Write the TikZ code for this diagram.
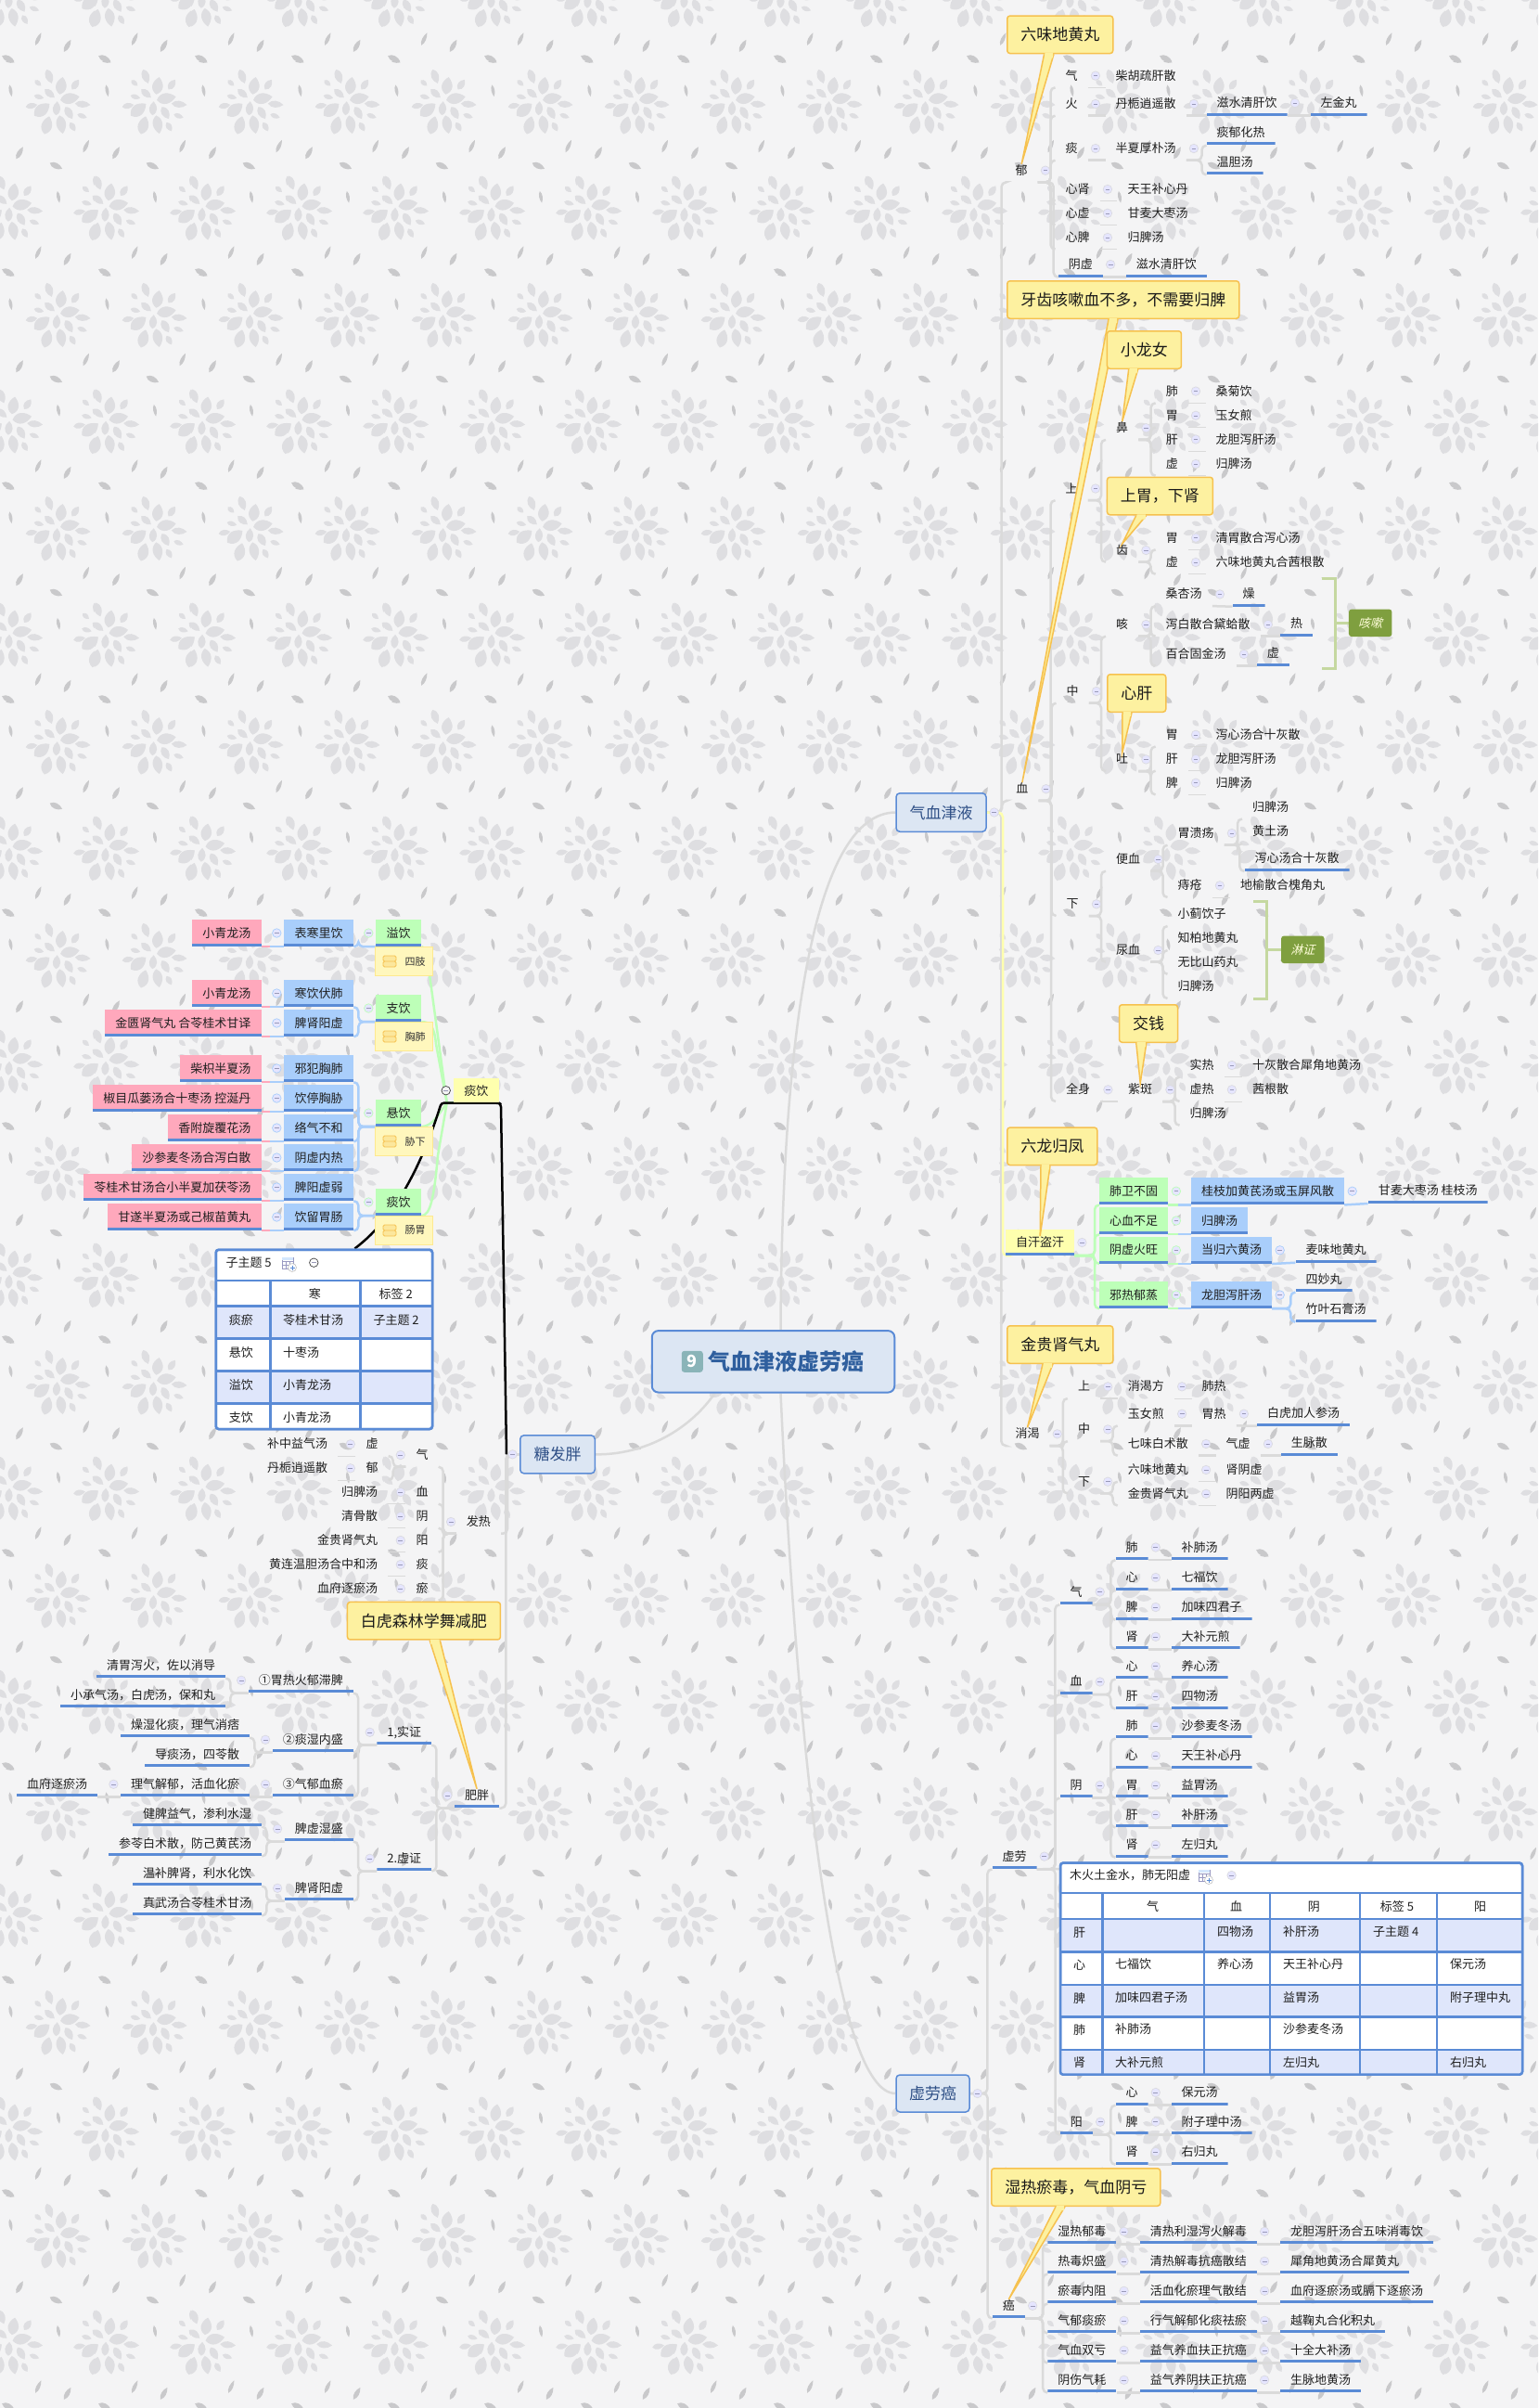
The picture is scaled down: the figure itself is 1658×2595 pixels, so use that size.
\documentclass[tikz,border=0pt]{standalone}
\usepackage{fontspec}
\setmainfont{Noto Sans CJK SC}
\newfontfamily\tagfont[FakeSlant=0.25]{Noto Sans CJK SC}
\usetikzlibrary{calc,patterns}
\definecolor{pageBg}{HTML}{F4F4F5}
\definecolor{petalGray}{HTML}{DEDEE1}
\definecolor{leafGray}{HTML}{C9C9CB}
\definecolor{linkGray}{HTML}{DADADA}
\definecolor{ulBlue}{HTML}{5A8BD6}
\definecolor{greenBox}{HTML}{BDFFB8}
\definecolor{blueBox}{HTML}{A9CEFB}
\definecolor{pinkBox}{HTML}{FFA8BC}
\definecolor{yellowBox}{HTML}{FEFFAE}
\definecolor{noteFill}{HTML}{FFF7BD}
\definecolor{noteLine}{HTML}{FFE98F}
\definecolor{topicFill}{HTML}{DCE6F3}
\definecolor{topicText}{HTML}{2E4F86}
\definecolor{rootText}{HTML}{2F5F9E}
\definecolor{badgeFill}{HTML}{8AB4B8}
\definecolor{callFill}{HTML}{FDF1A0}
\definecolor{callLine}{HTML}{F6C14F}
\definecolor{rowFill}{HTML}{DFE6FB}
\definecolor{tagFill}{HTML}{7F9F3F}
\definecolor{braceGreen}{HTML}{C5D8A0}
\pgfdeclarelayer{paper}
\pgfdeclarelayer{links}
\pgfsetlayers{paper,links,main}
\newcommand{\fs}[1]{\fontsize{#1pt}{#1pt}\selectfont}
% one petal of the paper: centre, length, width, angle (y goes up here)
\newcommand{\paperpetal}[5]{%
  \pgfscope
  \pgftransformshift{\pgfpoint{#1pt}{#2pt}}\pgftransformrotate{#5}\pgftransformxscale{#3}\pgftransformyscale{#4}%
  \pgfpathmoveto{\pgfpoint{-.5pt}{0pt}}%
  \pgfpathcurveto{\pgfpoint{-.25pt}{.78pt}}{\pgfpoint{.2pt}{.62pt}}{\pgfpoint{.5pt}{0pt}}%
  \pgfpathcurveto{\pgfpoint{.2pt}{-.62pt}}{\pgfpoint{-.25pt}{-.78pt}}{\pgfpoint{-.5pt}{0pt}}%
  \pgfusepath{fill}%
  \endpgfscope}
\newcommand{\paperflower}[2]{%
  \pgfscope
  \pgftransformshift{\pgfpoint{#1pt}{#2pt}}%
  \pgfsetfillcolor{petalGray}%
  \foreach \dx/\dy/\l/\w/\r in {3.3/17.7/19/11/80, 12.7/4/21/11/10, -17.7/-8.3/21/12/38, -12.3/-25/20/11/75,
      3.3/-24.3/20/10/-80, 11.7/-11.7/15/8/-60, -1.7/-6.7/15/8/85, -9.3/9.3/14/7/-40, -9.7/27.7/16/8/-70,
      18.7/19/13/7/55, 26.7/-2.3/17/7/-5, 26/-15/11/5/-20, 15.7/-26.7/11/6/-60, -29/-4/13/6/10, -21/5.7/11/5/-15, -22/20.7/9/5/-40}
    {\paperpetal{\dx}{\dy}{\l}{\w}{\r}}%
  \pgfsetfillcolor{leafGray}%
  \foreach \dx/\dy/\l/\w/\r in {-21.7/67.3/15/4/65, 10/60/15/5/60, -54.3/46/15/6/-25, -51.7/12.3/13/3.5/-80}
    {\paperpetal{\dx}{\dy}{\l}{\w}{\r}}%
  \endpgfscope}
\pgfdeclarepatterninherentlycolored{paperleaf}{\pgfpointorigin}{\pgfpoint{104pt}{230pt}}{\pgfpoint{104pt}{230pt}}{%
  \foreach \i in {-1,0,1} \foreach \j in {-1,0,1} {%
    \pgfmathsetmacro{\ax}{64.3+104*\i}\pgfmathsetmacro{\ay}{186.7+230*\j}%
    \pgfmathsetmacro{\bx}{12.3+104*\i}\pgfmathsetmacro{\by}{71.7+230*\j}%
    \paperflower{\ax}{\ay}\paperflower{\bx}{\by}}}
\tikzset{
  tx/.style={anchor=west,font=\fs{13},text=black!88,inner xsep=11pt,inner ysep=0pt,minimum height=25pt,text height=11pt,text depth=2pt},
  rtx/.style={tx,anchor=east},
  rule/.style={minimum height=27pt,path picture={\fill[ulBlue] ([yshift=3pt]path picture bounding box.south west) rectangle (path picture bounding box.south east);}},
  ul/.style={tx,rule},
  rul/.style={rtx,rule},
  gbox/.style={ul,fill=greenBox,minimum height=29pt},
  bbox/.style={ul,fill=blueBox,minimum height=29pt},
  pbox/.style={rul,fill=pinkBox,minimum height=29pt},
  topic/.style={font=\fs{17},text=topicText,fill=topicFill,draw=ulBlue,line width=1.5pt,rounded corners=4pt,inner sep=0pt},
  tagnode/.style={fill=tagFill,text=yellow!15,font=\fs{13}\tagfont,rounded corners=3pt,minimum width=46.5pt,minimum height=29.5pt,inner sep=0pt},
  note/.style={fill=noteFill,draw=noteLine,line width=.8pt,font=\fs{11},text=black!80,minimum width=62pt,minimum height=31pt,inner sep=0pt,
    execute at begin node={\hspace{24pt}},
    path picture={\draw[callLine,fill=noteFill!70!callLine,line width=.8pt,rounded corners=1.5pt]
      ([shift={(8.5,-6)}]path picture bounding box.west) rectangle ++(14,6)
      ([shift={(8.5,0)}]path picture bounding box.west) rectangle ++(14,6);}},
  callout/.style={font=\fs{17},text=black!90,fill=callFill,draw=callLine,line width=1.5pt,rounded corners=3pt,inner xsep=14.5pt,inner ysep=0pt,minimum height=40.5pt},
  tailLine/.style={fill=callFill,draw=callLine,line width=1.5pt,line join=miter},
  coll/.style={circle,draw=blue!12!black!14,fill=white!90!blue,line width=.7pt,minimum size=9.5pt,inner sep=0pt,
    path picture={\draw[blue!30!black!40,line width=.6pt] ([xshift=-2.4pt]path picture bounding box.center) -- ([xshift=2.4pt]path picture bounding box.center);}},
  collB/.style={coll,draw=blueBox},
  collG/.style={coll,draw=greenBox},
  collD/.style={coll,draw=black!75,fill=pageBg},
  link/.style={draw=linkGray,line width=2.5pt,rounded corners=5pt},
  thin link/.style={draw=linkGray,line width=1pt},
  glink/.style={draw=greenBox,line width=2.5pt,rounded corners=5pt},
  blink/.style={draw=blueBox,line width=2.5pt,rounded corners=5pt},
  plink/.style={draw=pinkBox,line width=2.5pt},
  heavy/.style={draw=black,line width=2.5pt,rounded corners=3pt},
  brace/.style={draw=braceGreen,line width=3pt},
  cell/.style={anchor=west,font=\fs{13},text=black!88,inner sep=0pt},
  cellc/.style={cell,anchor=center},
  tabline/.style={draw=ulBlue,line width=2.5pt},
  tabframe/.style={draw=ulBlue,line width=2.5pt,fill=white,rounded corners=3pt,inner sep=0pt},
  tabicon/.pic={
    \draw[blue!40!black!40,line width=.7pt] (-6,-6) rectangle (6,6) (-6,-2) -- (6,-2) (-6,2) -- (6,2) (-2,-2) -- (-2,6) (2,-2) -- (2,6);
    \fill[blueBox!50] (-6,-6) rectangle (6,-3);
    \draw[black!25,fill=white,line width=.6pt] (5,5) circle (4.5pt);
    \draw[ulBlue,line width=.7pt] (2.5,5) -- (7.5,5) (5,2.5) -- (5,7.5);
  },
}
\newcommand{\rtree}[2][link]{\foreach \a/\b in {#2} \draw[#1] (\a.south east) -| ([xshift=-5pt]\b.south west) -- (\b.south west);}
\newcommand{\ltree}[2][link]{\foreach \a/\b in {#2} \draw[#1] (\a.south west) -| ([xshift=5pt]\b.south east) -- (\b.south east);}
\newcommand{\rline}[2][link]{\foreach \a/\b in {#2} \draw[#1] (\a.south east) -- (\b.south west);}
\newcommand{\lline}[2][link]{\foreach \a/\b in {#2} \draw[#1] (\a.south west) -- (\b.south east);}
\newcommand{\calltail}[4]{%
  \path ([xshift=#2pt]#1.south west) coordinate (t1) ([xshift=#3pt]#1.south west) coordinate (t2) ([yshift=7pt]#4.center) coordinate (t3);
  \draw[tailLine] (t1) -- (t3) -- (t2);
  \fill[callFill] ([yshift=1.2pt,xshift=.8pt]t1) -- ([yshift=-4pt,xshift=1pt]t1) -- ([yshift=-4pt,xshift=-1pt]t2) -- ([yshift=1.2pt,xshift=-.8pt]t2) -- cycle;}
\begin{document}
\begin{tikzpicture}[x=1pt,y=-1pt]
\useasboundingbox (0,0) rectangle (1658,2595);
% paper
\begin{pgfonlayer}{paper}
\fill[pageBg] (0,0) rectangle (1658,2595);
\fill[pattern=paperleaf] (0,0) rectangle (1658,2595);
\end{pgfonlayer}

% centre and main topics
\node[topic,font=\fs{24}\bfseries,text=rootText,minimum width=261.5pt,minimum height=66.5pt,line width=2pt,rounded corners=7pt] (root) at (833.5,1467.3) {\hspace{28pt}气血津液虚劳癌};
\node[fill=badgeFill,text=white,font=\fs{18}\bfseries,rounded corners=3pt,minimum size=23pt,inner sep=0pt] (rootNum) at ([xshift=44.5pt]root.west) {9};
\node[topic,minimum width=97pt,minimum height=41.5pt] (qixue) at (1014.5,875.5) {气血津液};
\node[topic,minimum width=79pt,minimum height=40pt] (xlaTop) at (1005.5,2256) {虚劳癌};
\node[topic,minimum width=80.5pt,minimum height=41pt] (tang) at (601,1567.3) {糖发胖};

% yu
\node[tx] (yu) at (1083.5,183.7) {郁};
\node[tx] (yqi) at (1137.5,81.6) {气};
\node[tx] (yhuo) at (1137.5,112) {火};
\node[tx] (ytan) at (1137.5,160) {痰};
\node[tx] (yxs) at (1137.5,204) {心肾};
\node[tx] (yxx) at (1137.5,229.8) {心虚};
\node[tx] (yxp) at (1137.5,256) {心脾};
\node[ul] (yyx) at (1140.7,285) {阴虚};
\node[tx] (chaihu) at (1191.5,81.6) {柴胡疏肝散};
\node[tx] (danzhi) at (1191.5,112) {丹栀逍遥散};
\node[tx] (banxia) at (1191.5,160) {半夏厚朴汤};
\node[ul] (zishuiA) at (1300.5,111) {滋水清肝饮};
\node[ul] (zuojin) at (1412.5,111) {左金丸};
\node[ul] (tanyu) at (1300.5,142.9) {痰郁化热};
\node[ul] (wendan) at (1300.5,174.7) {温胆汤};
\node[tx] (tianwang) at (1204.3,204) {天王补心丹};
\node[tx] (ganmaiA) at (1204.3,229.8) {甘麦大枣汤};
\node[tx] (guipiA) at (1204.3,256) {归脾汤};
\node[ul] (zishuiB) at (1213.6,285) {滋水清肝饮};

% xue
\node[tx] (xue) at (1084.2,850.2) {血};
\node[tx] (shang) at (1137.5,526.5) {上};
\node[tx] (zhong) at (1138.5,745) {中};
\node[tx] (xiaB) at (1138.5,974.3) {下};
\node[tx] (quan) at (1138,1174.3) {全身};
\node[tx] (bi) at (1192,461.2) {鼻};
\node[tx] (chi) at (1192,593) {齿};
\node[tx] (ke) at (1192,673) {咳};
\node[tx] (tu) at (1192,818.4) {吐};
\node[tx] (bian) at (1192,926) {便血};
\node[tx] (niao) at (1192,1024) {尿血};
\foreach \n/\y/\a/\b in {biFei/421.6/肺/桑菊饮, biWei/447.8/胃/玉女煎, biGan/473.5/肝/龙胆泻肝汤, biXu/500/虚/归脾汤,
  chiWei/579.6/胃/清胃散合泻心汤, chiXu/606/虚/六味地黄丸合茜根散,
  tuWei/791.8/胃/泻心汤合十灰散, tuGan/818/肝/龙胆泻肝汤, tuPi/843.7/脾/归脾汤} {
  \node[tx] (\n) at (1245.6,\y) {\a};
  \node[tx] (\n R) at (1299.5,\y) {\b};
}
\node[tx] (sangxing) at (1245.5,640.4) {桑杏汤};
\node[tx] (xiebai) at (1245.5,673) {泻白散合黛蛤散};
\node[tx] (baihe) at (1245.5,705) {百合固金汤};
\node[ul] (zao) at (1328.5,640) {燥};
\node[ul] (keRe) at (1380,672) {热};
\node[ul] (keXu) at (1354.6,704) {虚};
\node[tagnode] (keTag) at (1477.2,671.3) {咳嗽};
\node[tx] (weikui) at (1258.5,898) {胃溃疡};
\node[tx] (zhi) at (1258.5,954.3) {痔疮};
\node[tx] (guipiD) at (1339,869.8) {归脾汤};
\node[tx] (huangtu) at (1339,896.3) {黄土汤};
\node[ul] (xiexinB) at (1341.4,925.3) {泻心汤合十灰散};
\node[tx] (diyu) at (1326,954.3) {地榆散合槐角丸};
\node[tx] (xiaoji) at (1258.5,985.3) {小蓟饮子};
\node[tx] (zhibai) at (1258.5,1011.4) {知柏地黄丸};
\node[tx] (wubi) at (1258.5,1037) {无比山药丸};
\node[tx] (guipiE) at (1258.5,1063.3) {归脾汤};
\node[tagnode] (linTag) at (1404.3,1023.3) {淋证};
\node[tx] (zib) at (1205,1174.3) {紫斑};
\node[tx] (shire) at (1271.5,1148) {实热};
\node[tx] (xure) at (1271.5,1174.3) {虚热};
\node[tx] (guipiF) at (1271.5,1200) {归脾汤};
\node[tx] (shihui) at (1339,1148) {十灰散合犀角地黄汤};
\node[tx] (qiangen) at (1339,1174.3) {茜根散};

% zihan
\node[ul,fill=yellowBox,minimum height=28pt] (zihan) at (1084,1339) {自汗盗汗};
\node[gbox] (zhA) at (1185,1283.7) {肺卫不固};
\node[gbox] (zhB) at (1185,1315.5) {心血不足};
\node[gbox] (zhC) at (1185,1347.3) {阴虚火旺};
\node[gbox] (zhD) at (1185,1395.5) {邪热郁蒸};
\node[bbox] (guizhi) at (1283.8,1283.7) {桂枝加黄芪汤或玉屏风散};
\node[bbox] (guipiG) at (1283.8,1315.5) {归脾汤};
\node[bbox] (danggui) at (1283.8,1347.3) {当归六黄汤};
\node[bbox] (longdanC) at (1283.8,1395.5) {龙胆泻肝汤};
\node[ul] (ganmaiB) at (1474.6,1283.3) {甘麦大枣汤 桂枝汤};
\node[ul] (maiwei) at (1396.3,1347) {麦味地黄丸};
\node[ul] (simiao) at (1396.3,1378.8) {四妙丸};
\node[ul] (zhuye) at (1396.3,1411) {竹叶石膏汤};

% xiaoke
\node[tx] (xiaoke) at (1083.3,1545.3) {消渴};
\node[tx] (xkS) at (1150.8,1494.3) {上};
\node[tx] (xkZ) at (1150.8,1540.4) {中};
\node[tx] (xkX) at (1150.8,1596.7) {下};
\node[tx] (xkfang) at (1204.7,1494.3) {消渴方};
\node[tx] (feire) at (1284.5,1494.3) {肺热};
\node[tx] (yunvB) at (1204.7,1523.7) {玉女煎};
\node[tx] (weire) at (1284.5,1523.7) {胃热};
\node[ul] (baihu) at (1354.8,1523) {白虎加人参汤};
\node[tx] (qiwei) at (1204.7,1556) {七味白术散};
\node[tx] (qixu) at (1310.5,1556) {气虚};
\node[ul] (shengmai) at (1380.7,1555) {生脉散};
\node[tx] (liuweiB) at (1204.7,1584) {六味地黄丸};
\node[tx] (shenyin) at (1310.5,1584) {肾阴虚};
\node[tx] (jingui) at (1204.7,1609.8) {金贵肾气丸};
\node[tx] (yinyang) at (1310.5,1609.8) {阴阳两虚};

% xulao
\node[ul] (xulao) at (1069.4,2000.6) {虚劳};
\node[ul] (xlQi) at (1142.3,1715.5) {气};
\node[ul] (xlXue) at (1142.3,1812.4) {血};
\node[ul] (xlYin) at (1142.3,1923.9) {阴};
\node[ul] (xlYang) at (1142.7,2286.7) {阳};
\foreach \n/\y/\a/\b in {qA/1667.5/肺/补肺汤, qB/1700/心/七福饮, qC/1732/脾/加味四君子, qD/1763.8/肾/大补元煎,
  xA/1795.7/心/养心汤, xB/1828/肝/四物汤,
  yA/1859.8/肺/沙参麦冬汤, yB/1892/心/天王补心丹, yC/1923.9/胃/益胃汤, yD/1955.7/肝/补肝汤, yE/1988/肾/左归丸,
  zA/2255/心/保元汤, zB/2286.7/脾/附子理中汤, zC/2319/肾/右归丸} {
  \node[ul] (\n) at (1202.4,\y) {\a};
  \node[ul] (\n R) at (1262.5,\y) {\b};
}
\node[tabframe,minimum width=498pt,minimum height=228pt] (xlTable) at (1392,2121.6) {};
\foreach \ya/\yb in {2068/2103.5, 2139/2173.7, 2208.8/2234.5} \fill[rowFill] (1144.2,\ya) rectangle (1639.8,\yb);
\foreach \yy in {2040.2,2068,2103.5,2139,2173.7,2208.8} \draw[tabline] (1143,\yy) -- (1641,\yy);
\foreach \xx in {1188.4,1298.2,1369.1,1466,1549} \draw[tabline] (\xx,2040.2) -- (\xx,2235.7);
\node[tabframe,fill=none,minimum width=498pt,minimum height=228pt] (xlFrame) at (xlTable.center) {};
\node[cell] (xlTitle) at (1152.8,2021) {木火土金水，肺无阳虚};
\pic at (1298,2021) {tabicon};
\foreach \x/\t [count=\i] in {1242.7/气, 1332.7/血, 1416.4/阴, 1506/标签 5, 1595.6/阳} \node[cellc] (xlHead\i) at (\x,2054.5) {\t};
\foreach \x/\y/\t [count=\i] in {1157/2082.7/肝, 1157/2118/心, 1157/2153.3/脾, 1157/2188/肺, 1157/2223/肾,
  1312/2081.7/四物汤, 1383/2081.7/补肝汤, 1480/2081.7/子主题 4,
  1202/2117/七福饮, 1312/2117/养心汤, 1383/2117/天王补心丹, 1563/2117/保元汤,
  1202/2152.3/加味四君子汤, 1383/2152.3/益胃汤, 1563/2152.3/附子理中丸,
  1202/2187/补肺汤, 1383/2187/沙参麦冬汤,
  1202/2222.5/大补元煎, 1383/2222.5/左归丸, 1563/2222.5/右归丸}
  \node[cell] (xlCell\i) at (\x,\y) {\t};

% ai
\node[ul] (ai) at (1069.7,2484.8) {癌};
\foreach \y/\a/\b/\c [count=\i] in {2404.8/湿热郁毒/清热利湿泻火解毒/龙胆泻肝汤合五味消毒饮,
  2436.8/热毒炽盛/清热解毒抗癌散结/犀角地黄汤合犀黄丸,
  2468.8/瘀毒内阻/活血化瘀理气散结/血府逐瘀汤或膈下逐瘀汤,
  2500.8/气郁痰瘀/行气解郁化痰祛瘀/越鞠丸合化积丸,
  2532.8/气血双亏/益气养血扶正抗癌/十全大补汤,
  2564.8/阴伤气耗/益气养阴扶正抗癌/生脉地黄汤} {
  \node[ul] (aiA\i) at (1129.2,\y) {\a};
  \node[ul] (aiB\i) at (1228.7,\y) {\b};
  \node[ul] (aiC\i) at (1379.8,\y) {\c};
}

% left: tanyin
\node[fill=yellowBox,font=\fs{13},text=black!88,minimum width=48.7pt,minimum height=26.3pt,inner sep=0pt] (tanyin) at (513.3,1175.2) {痰饮};
\foreach \n/\y/\a [count=\i] in {yiyin/1005.5/溢饮, zhiyin/1086.5/支饮, xuanyin/1199.5/悬饮, tany/1295.5/痰饮}
  \node[gbox,inner xsep=11.5pt] (\n) at (405,\y) {\a};
\node[note] (siZhi) at (435.5,1036) {四肢};
\node[note] (xiongFei) at (435.5,1117) {胸肺};
\node[note] (xieXia) at (435.5,1230) {胁下};
\node[note] (changWei) at (435.5,1326) {肠胃};
\foreach \n/\y/\a/\b in {rA/1005.5/表寒里饮/小青龙汤, rB/1070.5/寒饮伏肺/小青龙汤, rC/1102.5/脾肾阳虚/金匮肾气丸 合苓桂术甘译,
  rD/1151.5/邪犯胸肺/柴枳半夏汤, rE/1183.5/饮停胸胁/椒目瓜蒌汤合十枣汤 控涎丹, rF/1215.5/络气不和/香附旋覆花汤,
  rG/1247.5/阴虚内热/沙参麦冬汤合泻白散, rH/1279.5/脾阳虚弱/苓桂术甘汤合小半夏加茯苓汤, rI/1311.5/饮留胃肠/甘遂半夏汤或己椒苗黄丸} {
  \node[bbox,inner xsep=11.5pt] (\n) at (306,\y) {\a};
  \node[pbox,inner xsep=11.5pt] (\n P) at (282,\y) {\b};
}
\node[tabframe,minimum width=233.3pt,minimum height=193.3pt] (tyTable) at (349.4,1443.4) {};
\foreach \ya/\yb in {1407.3/1442.3, 1477.3/1512.3} \fill[rowFill] (234,\ya) rectangle (464.8,\yb);
\foreach \yy in {1380,1407.3,1442.3,1477.3,1512.3} \draw[tabline] (232.7,\yy) -- (466,\yy);
\foreach \xx in {291.3,388.3} \draw[tabline] (\xx,1380) -- (\xx,1540);
\node[tabframe,fill=none,minimum width=233.3pt,minimum height=193.3pt] (tyFrame) at (tyTable.center) {};
\node[cell] (tyTitle) at (243.3,1361) {子主题 5};
\pic at (310,1361) {tabicon};
\node[cellc] (tyHeadA) at (339.3,1394.3) {寒};
\node[cellc] (tyHeadB) at (426.7,1394.3) {标签 2};
\foreach \x/\y/\t [count=\i] in {246.7/1422.3/痰瘀, 305/1422.3/苓桂术甘汤, 402.3/1422.3/子主题 2,
  246.7/1457.3/悬饮, 305/1457.3/十枣汤, 246.7/1492.3/溢饮, 305/1492.3/小青龙汤, 246.7/1527.3/支饮, 305/1527.3/小青龙汤}
  \node[cell] (tyCell\i) at (\x,\y) {\t};

% left: fare
\node[rtx] (fare) at (540,1640) {发热};
\foreach \n/\y/\a [count=\i] in {fQi/1568/气, fXue/1608/血, fYin/1634/阴, fYang/1660/阳, fTan/1686/痰, fYu/1712/瘀}
  \node[rtx] (\n) at (472.7,\y) {\a};
\node[rtx] (fXu) at (418.7,1556.3) {虚};
\node[rtx] (fYuB) at (418.7,1582.3) {郁};
\node[rtx] (buzhong) at (364.3,1556.3) {补中益气汤};
\node[rtx] (danzhiB) at (364.3,1582.3) {丹栀逍遥散};
\node[rtx] (guipiH) at (418.3,1608) {归脾汤};
\node[rtx] (qinggu) at (418.3,1634) {清骨散};
\node[rtx] (jinguiB) at (418.3,1660) {金贵肾气丸};
\node[rtx] (huanglian) at (418.3,1686) {黄连温胆汤合中和汤};
\node[rtx] (xuefuA) at (418.3,1712) {血府逐瘀汤};

% left: feipang
\node[rul] (feipang) at (538.3,1934.8) {肥胖};
\node[rul] (shizh) at (465.4,1866.8) {1,实证};
\node[rul] (xuzh) at (465.4,2002.8) {2.虚证};
\foreach \n/\y/\a in {wrh/1810.8/①胃热火郁滞脾, tsn/1874.8/②痰湿内盛, qyx/1922.8/③气郁血瘀, pxs/1970.8/脾虚湿盛, psy/2034.8/脾肾阳虚}
  \node[rul] (\n) at (381,\y) {\a};
\node[rul] (qingwei) at (243.4,1794.8) {清胃泻火，佐以消导};
\node[rul] (xiaocheng) at (243.4,1826.8) {小承气汤，白虎汤，保和丸};
\node[rul] (zaoshi) at (269.3,1858.8) {燥湿化痰，理气消痞};
\node[rul] (daotan) at (269.3,1890.8) {导痰汤，四苓散};
\node[rul] (liqi) at (269.3,1922.8) {理气解郁，活血化瘀};
\node[rul] (xuefuB) at (105.4,1922.8) {血府逐瘀汤};
\node[rul] (jianpi) at (282.3,1954.8) {健脾益气，渗利水湿};
\node[rul] (shenling) at (282.3,1986.8) {参苓白术散，防己黄芪汤};
\node[rul] (wenbu) at (282.3,2018.8) {温补脾肾，利水化饮};
\node[rul] (zhenwu) at (282.3,2050.8) {真武汤合苓桂术甘汤};

% collapse marks
\foreach \a in {yu,yqi,yhuo,ytan,yxs,yxx,yxp,yyx,danzhi,banxia,zishuiA,xue,shang,zhong,xiaB,quan,bi,chi,ke,tu,bian,niao,
  biFei,biWei,biGan,biXu,chiWei,chiXu,tuWei,tuGan,tuPi,sangxing,xiebai,baihe,weikui,zhi,zib,shire,xure,
  xiaoke,xkS,xkZ,xkX,xkfang,yunvB,weire,qiwei,qixu,liuweiB,jingui,xulao,xlQi,xlXue,xlYin,xlYang,
  qA,qB,qC,qD,xA,xB,yA,yB,yC,yD,yE,zA,zB,zC,ai,qixue,xlaTop,zihan,
  aiA1,aiA2,aiA3,aiA4,aiA5,aiA6,aiB1,aiB2,aiB3,aiB4,aiB5,aiB6}
  \node[coll] (c\a) at ([xshift=8pt]\a.east) {};
\foreach \a in {zhA,zhB,zhC,zhD} \node[collG] (c\a) at ([xshift=8.5pt]\a.east) {};
\foreach \a in {guizhi,danggui,longdanC} \node[collB] (c\a) at ([xshift=8.5pt]\a.east) {};
\foreach \a in {fare,fQi,fXue,fYin,fYang,fTan,fYu,fXu,fYuB}
  \node[coll] (c\a) at ([xshift=-5.5pt]\a.west) {};
\foreach \a in {feipang,shizh,xuzh,wrh,tsn,qyx,pxs,psy,liqi,tang}
  \node[coll] (c\a) at ([xshift=-7.5pt]\a.west) {};
\foreach \a in {yiyin,zhiyin,xuanyin,tany} \node[collG] (c\a) at ([xshift=-7.7pt]\a.west) {};
\foreach \a in {rA,rB,rC,rD,rE,rF,rG,rH,rI} \node[collB] (c\a) at ([xshift=-7.7pt]\a.west) {};
\node[collD] (ctanyin) at ([xshift=-8pt]tanyin.west) {};
\node[coll] (cxlTitle) at (1327.6,2021) {};
\node[collD,fill=white] (ctyTitle) at (338.3,1360.7) {};

% links
\begin{pgfonlayer}{links}
\draw[link] ([xshift=8pt]root.north) .. controls (843,1100) and (880,876) .. (qixue.west);
\draw[link] ([xshift=8pt]root.south) .. controls (860,1900) and (900,2256) .. (xlaTop.west);
\draw[link] (tang.east) .. controls (690,1568) and (740,1545) .. ([xshift=-63pt]root.south);
\foreach \b in {yu,xue,xiaoke} \draw[link] (qixue.east) -| ([xshift=-4pt]\b.south west) -- (\b.south west);
\draw[link,draw=yellowBox] (qixue.east) -| ([xshift=-3pt]zihan.south west) -- (zihan.south west);
\foreach \b in {xulao,ai} \draw[link] (xlaTop.east) -| ([xshift=-5pt]\b.south west) -- (\b.south west);
\foreach \b in {fare,feipang} \draw[link] (tang.west) -| ([xshift=7pt]\b.south east) -- (\b.south east);
\rtree{yu/yqi,yu/yhuo,yu/ytan,yu/yxs,yu/yxx,yu/yxp,yu/yyx,banxia/tanyu,banxia/wendan}
\rline{yhuo/danzhi,ytan/banxia,danzhi/zishuiA,zishuiA/zuojin,yyx/zishuiB}
\rline[thin link]{yqi/chaihu,yxs/tianwang,yxx/ganmaiA,yxp/guipiA}
\rtree{xue/shang,xue/zhong,xue/xiaB,xue/quan,shang/bi,shang/chi,zhong/ke,zhong/tu,xiaB/bian,xiaB/niao,
  bi/biFei,bi/biWei,bi/biGan,bi/biXu,chi/chiWei,chi/chiXu,ke/sangxing,ke/xiebai,ke/baihe,tu/tuWei,tu/tuGan,tu/tuPi,
  bian/weikui,bian/zhi,weikui/guipiD,weikui/huangtu,weikui/xiexinB,niao/xiaoji,niao/zhibai,niao/wubi,niao/guipiE,
  zib/shire,zib/xure,zib/guipiF}
\rline{quan/zib,sangxing/zao,xiebai/keRe,baihe/keXu}
\rline[thin link]{biFei/biFeiR,biWei/biWeiR,biGan/biGanR,biXu/biXuR,chiWei/chiWeiR,chiXu/chiXuR,tuWei/tuWeiR,tuGan/tuGanR,tuPi/tuPiR,
  zhi/diyu,shire/shihui,xure/qiangen}
\rtree[glink]{zihan/zhA,zihan/zhB,zihan/zhC,zihan/zhD}
\foreach \a/\b in {zhA/guizhi,zhB/guipiG,zhC/danggui,zhD/longdanC} {
  \draw[blink] (\a.south east) -- (\b.south west);
  \draw[glink] (\a.south east) -- ++(11,0);
}
\rline[blink]{guizhi/ganmaiB,danggui/maiwei}
\rtree[blink]{longdanC/simiao,longdanC/zhuye}
\rtree{xiaoke/xkS,xiaoke/xkZ,xiaoke/xkX,xkZ/yunvB,xkZ/qiwei,xkX/liuweiB,xkX/jingui}
\rline{yunvB/weire,weire/baihu,qiwei/qixu,qixu/shengmai,xkS/xkfang}
\rline[thin link]{xkfang/feire,liuweiB/shenyin,jingui/yinyang}
\rtree{xulao/xlQi,xulao/xlXue,xulao/xlYin,xulao/xlYang,
  xlQi/qA,xlQi/qB,xlQi/qC,xlQi/qD,xlXue/xA,xlXue/xB,xlYin/yA,xlYin/yB,xlYin/yC,xlYin/yD,xlYin/yE,xlYang/zA,xlYang/zB,xlYang/zC}
\rline{qA/qAR,qB/qBR,qC/qCR,qD/qDR,xA/xAR,xB/xBR,yA/yAR,yB/yBR,yC/yCR,yD/yDR,yE/yER,zA/zAR,zB/zBR,zC/zCR}
\coordinate (xlTabIn) at (1143,2014);
\draw[link] (xulao.south east) -- (xlTabIn);
\rtree{ai/aiA1,ai/aiA2,ai/aiA3,ai/aiA4,ai/aiA5,ai/aiA6}
\foreach \i in {1,...,6} \rline{aiA\i/aiB\i,aiB\i/aiC\i}
% brackets
\draw[brace] (1424.7,623.3) -- (1439,623.3) -- (1439,720.8) -- (1424.7,720.8) (1439,671.3) -- (keTag.west);
\draw[brace] (1351.3,971) -- (1365.8,971) -- (1365.8,1076.3) -- (1351.3,1076.3) (1365.8,1023.3) -- (linTag.west);
% green fan of tanyin
\coordinate (tyOut) at (tanyin.south west);
\draw[glink] (tyOut) ++(-7,0) -- (tyOut);
\draw[glink,rounded corners=0pt] ([xshift=-7pt]tyOut) -- (463,1050) .. controls (460,1026) and (458,1020) .. (yiyin.south east);
\draw[glink,rounded corners=0pt] ([xshift=-7pt]tyOut) -- (470,1125) .. controls (468,1105) and (463,1101) .. (zhiyin.south east);
\draw[glink,rounded corners=0pt] ([xshift=-7pt]tyOut) .. controls (470,1205) and (466,1213) .. (xuanyin.south east);
\draw[glink,rounded corners=0pt] ([xshift=-7pt]tyOut) -- (472,1245) .. controls (468,1290) and (464,1310) .. (tany.south east);
\ltree[blink]{yiyin/rA,zhiyin/rB,zhiyin/rC,xuanyin/rD,xuanyin/rE,xuanyin/rF,xuanyin/rG,tany/rH,tany/rI}
\foreach \n in {rA,rB,rC,rD,rE,rF,rG,rH,rI} {
  \draw[blink] (\n.south west) -- (\n P.south east);
  \draw[plink] (\n P.south east) -- ++(9,0);
}
% black branch
\draw[heavy] ([xshift=-14pt]tang.west) -- (540,1190) -- (537.7,1188.6) -- (tanyin.south west)
  -- ([xshift=-13pt]tanyin.south west) .. controls (458,1245) and (430,1310) .. ([xshift=33pt]tyFrame.north);
% fare
\ltree{fare/fQi,fare/fXue,fare/fYin,fare/fYang,fare/fTan,fare/fYu,fQi/fXu,fQi/fYuB}
\lline[thin link]{fXu/buzhong,fYuB/danzhiB,fXue/guipiH,fYin/qinggu,fYang/jinguiB,fTan/huanglian,fYu/xuefuA}
% feipang
\ltree{feipang/shizh,feipang/xuzh,shizh/wrh,shizh/tsn,shizh/qyx,xuzh/pxs,xuzh/psy,wrh/qingwei,wrh/xiaocheng,
  tsn/zaoshi,tsn/daotan,pxs/jianpi,pxs/shenling,psy/wenbu,psy/zhenwu}
\lline{qyx/liqi,liqi/xuefuB}
\end{pgfonlayer}

% callouts
\node[callout,anchor=north west] (cLiuwei) at (1085,16.3) {六味地黄丸};
\calltail{cLiuwei}{40.6}{51}{yu}
\node[callout,anchor=north west] (cYachi) at (1085,302) {牙齿咳嗽血不多，不需要归脾};
\calltail{cYachi}{110}{120}{xue}
\node[callout,anchor=north west] (cXiaolong) at (1192.7,356) {小龙女};
\calltail{cXiaolong}{24}{34}{bi}
\node[callout,anchor=north west] (cShangwei) at (1192.7,513.5) {上胃，下肾};
\calltail{cShangwei}{32}{43}{chi}
\node[callout,anchor=north west] (cXingan) at (1193,726) {心肝};
\calltail{cXingan}{17}{27}{tu}
\node[callout,anchor=north west] (cJiaoqian) at (1205.8,1082) {交钱};
\calltail{cJiaoqian}{19}{30}{zib}
\node[callout,anchor=north west] (cLiulong) at (1085,1214.3) {六龙归凤};
\calltail{cLiulong}{37}{47}{zihan}
\node[callout,anchor=north west] (cJingui) at (1085,1428) {金贵肾气丸};
\calltail{cJingui}{39}{50}{xiaoke}
\node[callout,anchor=north west] (cShire) at (1068,2336) {湿热瘀毒，气血阴亏};
\calltail{cShire}{70}{80}{ai}
\node[callout,anchor=north west] (cBaihu) at (373.7,1725.7) {白虎森林学舞减肥};
\calltail{cBaihu}{89.5}{100.6}{feipang}
\end{tikzpicture}
\end{document}
